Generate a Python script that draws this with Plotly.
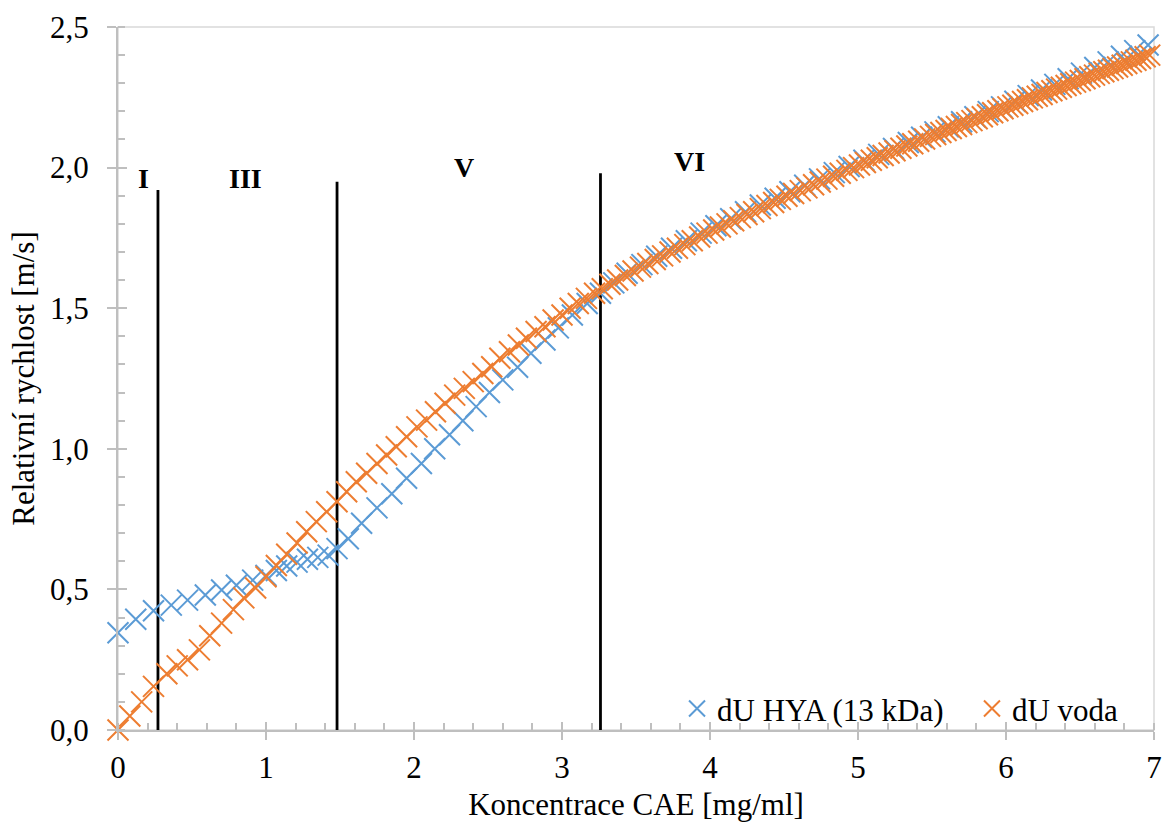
import plotly.graph_objects as go

# ---------------- data ----------------
hya_x = [0, 0.12, 0.24, 0.36, 0.47, 0.59, 0.70, 0.80, 0.91, 1.00,
         1.07, 1.14, 1.21, 1.28, 1.35, 1.42, 1.48, 1.556, 1.646, 1.75,
         1.85, 1.95, 2.05, 2.14, 2.24, 2.33, 2.42, 2.51, 2.60, 2.70,
         2.79, 2.885, 2.975, 3.07, 3.17, 3.26, 3.35, 3.44, 3.54, 3.64,
         3.74, 3.84, 3.94, 4.04, 4.14, 4.24, 4.34, 4.44, 4.54, 4.64,
         4.74, 4.84, 4.94, 5.04, 5.14, 5.24, 5.34, 5.43, 5.52, 5.61,
         5.70, 5.79, 5.88, 5.97, 6.06, 6.15, 6.24, 6.33, 6.42, 6.51,
         6.60, 6.69, 6.78, 6.87, 6.96]
hya_y = [0.346, 0.394, 0.424, 0.444, 0.462, 0.480, 0.498, 0.515, 0.533, 0.550,
         0.567, 0.583, 0.597, 0.607, 0.614, 0.622, 0.645, 0.680, 0.735, 0.790,
         0.840, 0.895, 0.948, 1.000, 1.050, 1.100, 1.150, 1.200, 1.245, 1.290,
         1.340, 1.387, 1.430, 1.476, 1.517, 1.553, 1.590, 1.624, 1.655, 1.685,
         1.713, 1.740, 1.767, 1.793, 1.818, 1.843, 1.867, 1.891, 1.914, 1.937,
         1.960, 1.982, 2.004, 2.026, 2.047, 2.068, 2.089, 2.108, 2.127, 2.145,
         2.163, 2.181, 2.199, 2.216, 2.236, 2.256, 2.276, 2.296, 2.316, 2.336,
         2.356, 2.376, 2.396, 2.416, 2.436]

voda_x = [0, 0.08, 0.16, 0.24, 0.33, 0.40, 0.47, 0.55, 0.62, 0.70,
          0.78, 0.85, 0.93, 1.00, 1.07, 1.14, 1.21, 1.275, 1.34, 1.41,
          1.48, 1.545, 1.61, 1.68, 1.75, 1.815, 1.88, 1.95, 2.02, 2.085,
          2.145, 2.21, 2.275, 2.34, 2.40, 2.465, 2.525, 2.58, 2.645, 2.705,
          2.76, 2.825, 2.885, 2.94, 3.0, 3.055, 3.11, 3.165, 3.22,
          3.272, 3.324, 3.376, 3.428, 3.48,
          3.53, 3.58, 3.63, 3.68, 3.73, 3.78, 3.83, 3.88, 3.93, 3.98,
          4.025, 4.07, 4.115, 4.16, 4.205, 4.25, 4.295, 4.34, 4.385, 4.43, 4.475,
          4.52, 4.565, 4.61, 4.655, 4.70, 4.745, 4.79, 4.835, 4.88, 4.925, 4.97,
          5.01, 5.05, 5.09, 5.13, 5.17, 5.21, 5.25, 5.29, 5.33, 5.37, 5.41, 5.45, 5.49,
          5.525, 5.56, 5.595, 5.63, 5.665, 5.70, 5.735, 5.77, 5.805, 5.84, 5.875, 5.91, 5.945, 5.98,
          6.013, 6.046, 6.079, 6.112, 6.145, 6.178, 6.211, 6.244, 6.277, 6.31,
          6.342, 6.374, 6.406, 6.438, 6.47,
          6.502, 6.534, 6.566, 6.598, 6.63, 6.661, 6.692, 6.723, 6.754, 6.785,
          6.816, 6.847, 6.878, 6.909, 6.94, 6.971]
voda_y = [0, 0.05, 0.10, 0.155, 0.20, 0.228, 0.25, 0.285, 0.335, 0.38,
          0.428, 0.47, 0.505, 0.545, 0.585, 0.625, 0.665, 0.705, 0.741, 0.776,
          0.812, 0.847, 0.883, 0.913, 0.948, 0.978, 1.007, 1.043, 1.078, 1.102,
          1.132, 1.162, 1.191, 1.215, 1.239, 1.268, 1.292, 1.322, 1.345, 1.369,
          1.393, 1.417, 1.434, 1.458, 1.476, 1.50, 1.517, 1.535, 1.553,
          1.569, 1.585, 1.600, 1.616, 1.632,
          1.646, 1.659, 1.673, 1.686, 1.700, 1.713, 1.726, 1.740, 1.753, 1.767,
          1.778, 1.789, 1.800, 1.811, 1.822, 1.833, 1.843, 1.854, 1.865, 1.876, 1.887,
          1.898, 1.908, 1.918, 1.928, 1.939, 1.949, 1.959, 1.969, 1.980, 1.990, 2.000,
          2.009, 2.018, 2.026, 2.035, 2.043, 2.052, 2.060, 2.069, 2.077, 2.085, 2.094, 2.102, 2.111,
          2.118, 2.125, 2.132, 2.139, 2.146, 2.153, 2.160, 2.167, 2.174, 2.181, 2.188, 2.195, 2.202, 2.209,
          2.216, 2.222, 2.228, 2.235, 2.241, 2.248, 2.254, 2.260, 2.267, 2.273,
          2.279, 2.286, 2.292, 2.298, 2.304,
          2.310, 2.316, 2.323, 2.329, 2.335, 2.341, 2.346, 2.352, 2.358, 2.364,
          2.370, 2.376, 2.382, 2.388, 2.394, 2.400]

boundary_x = [0.27, 1.48, 3.26]
boundary_top = [1.92, 1.95, 1.98]

region_labels = ["I", "III", "V", "VI"]
region_label_x = [0.17, 0.86, 2.34, 3.86]
region_label_y = [1.96, 1.96, 2.00, 2.02]

series_names = ["dU HYA (13 kDa)", "dU voda"]
x_ticks = [0, 1, 2, 3, 4, 5, 6, 7]
y_ticks = [0.0, 0.5, 1.0, 1.5, 2.0, 2.5]

# ---------------- styling ----------------
FONT = "Liberation Serif, Times New Roman, serif"
BLUE = "#5B9BD5"
ORANGE = "#ED7D31"
AXIS_GREY = "#BFBFBF"

n1 = min(len(hya_x), len(hya_y))
n2 = min(len(voda_x), len(voda_y))

fig = go.Figure()

# boundary lines
bx, by = [], []
for xb, top in zip(boundary_x, boundary_top):
    bx += [xb, xb, None]
    by += [0, top, None]
fig.add_trace(go.Scatter(x=bx, y=by, mode="lines",
                         line=dict(color="black", width=2.8),
                         showlegend=False, hoverinfo="skip"))

for xs, ys, n, name, col, lg in [(hya_x, hya_y, n1, series_names[0], BLUE, "legend"),
                                 (voda_x, voda_y, n2, series_names[1], ORANGE, "legend2")]:
    fig.add_trace(go.Scatter(
        x=xs[:n], y=ys[:n], mode="markers", name=name, legend=lg,
        cliponaxis=False,
        marker=dict(symbol="x-thin", size=21, color=col,
                    line=dict(color=col, width=2)),
    ))

# invisible trace on overlay axes (for crossing major ticks)
fig.add_trace(go.Scatter(x=[None], y=[None], xaxis="x2", yaxis="y2",
                         showlegend=False, hoverinfo="skip"))

for t, xv, yv in zip(region_labels, region_label_x, region_label_y):
    fig.add_annotation(x=xv, y=yv, text="<b>%s</b>" % t, showarrow=False,
                       font=dict(family=FONT, size=28, color="black"),
                       xanchor="center", yanchor="middle")

# plot frame
fig.add_shape(type="rect", xref="x domain", yref="y domain", x0=0, x1=1, y0=0, y1=1,
              line=dict(color="#D9D9D9", width=1.5), layer="below")

legend_style = dict(orientation="h", xanchor="left", yanchor="middle",
                    bgcolor="rgba(0,0,0,0)", font=dict(family=FONT, size=31),
                    itemsizing="trace")

fig.update_layout(
    width=1163, height=826,
    margin=dict(l=118, r=9, t=27, b=96, autoexpand=False),
    paper_bgcolor="white", plot_bgcolor="white",
    separators=", ",
    font=dict(family=FONT, size=31, color="black"),
    showlegend=True,
    legend=dict(x=0.5396, y=0.03, **legend_style),
    legend2=dict(x=0.8243, y=0.03, **legend_style),
    xaxis=dict(range=[0, 7], tickvals=x_ticks, ticks="outside", ticklen=8,
               tickcolor=AXIS_GREY, tickwidth=2,
               showline=True, linecolor=AXIS_GREY, linewidth=2,
               showgrid=False, zeroline=False,
               minor=dict(dtick=0.2, ticks="inside", ticklen=7,
                          tickcolor=AXIS_GREY, tickwidth=2, showgrid=False),
               ticklabelstandoff=1,
               tickfont=dict(family=FONT, size=31),
               title=dict(text="Koncentrace CAE [mg/ml]",
                          font=dict(family=FONT, size=31), standoff=9)),
    yaxis=dict(range=[0, 2.5], tickvals=y_ticks, tickformat=".1f",
               ticks="outside", ticklen=9, tickcolor=AXIS_GREY, tickwidth=2,
               showline=True, linecolor=AXIS_GREY, linewidth=2,
               showgrid=False, zeroline=False,
               minor=dict(dtick=0.1, ticks="inside", ticklen=7,
                          tickcolor=AXIS_GREY, tickwidth=2, showgrid=False),
               ticklabelstandoff=12,
               tickfont=dict(family=FONT, size=31),
               title=dict(text="Relativní rychlost [m/s]",
                          font=dict(family=FONT, size=31), standoff=6)),
    xaxis2=dict(overlaying="x", range=[0, 7], tickvals=x_ticks, ticks="inside",
                ticklen=8, tickcolor=AXIS_GREY, tickwidth=2, showticklabels=False,
                showgrid=False, zeroline=False, showline=False, anchor="y2"),
    yaxis2=dict(overlaying="y", range=[0, 2.5], tickvals=y_ticks, ticks="inside",
                ticklen=9, tickcolor=AXIS_GREY, tickwidth=2, showticklabels=False,
                showgrid=False, zeroline=False, showline=False, anchor="x2"),
)

fig.write_html("out.html")
